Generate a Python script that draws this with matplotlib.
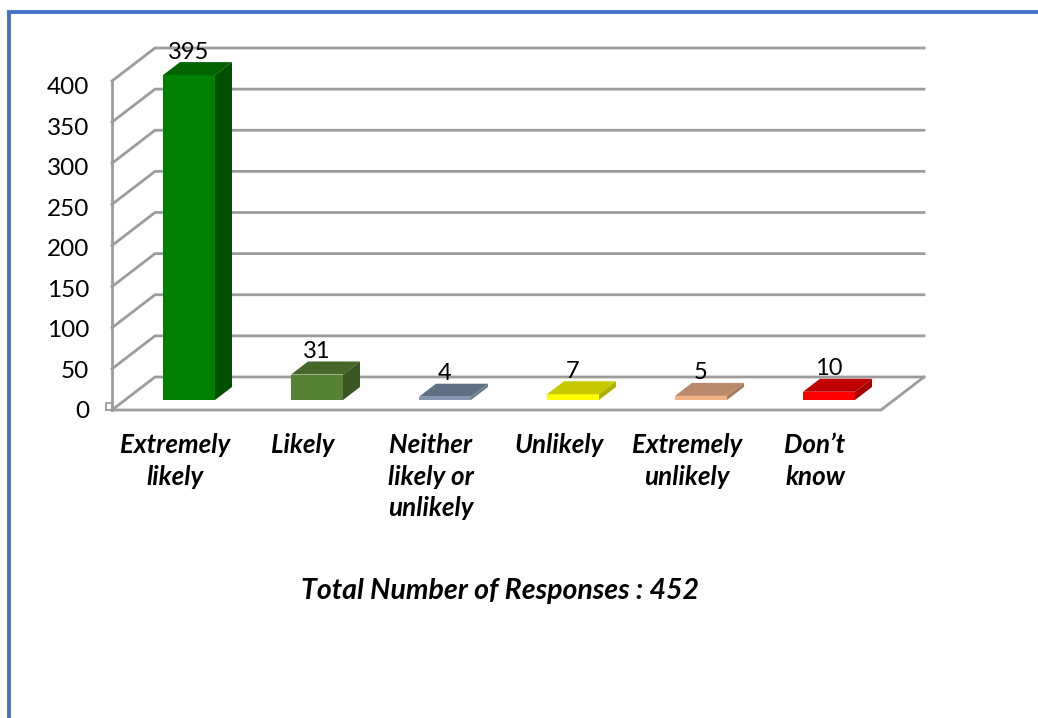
import matplotlib
matplotlib.use('Agg')
import matplotlib.pyplot as plt
from matplotlib.patches import Polygon

plt.rcParams['font.family'] = ['Lato', 'DejaVu Sans']

categories = ['Extremely\nlikely', 'Likely', 'Neither\nlikely or\nunlikely', 'Unlikely', 'Extremely\nunlikely', 'Don\u2019t\nknow']
values = [395, 31, 4, 7, 5, 10]
y_ticks = [0, 50, 100, 150, 200, 250, 300, 350, 400]
front_cols = ['#008000', '#558235', '#8497B0', '#FFFF00', '#F4B183', '#FF0000']
top_cols = ['#006400', '#436829', '#5F7085', '#C8C800', '#B8896A', '#C00000']
side_cols = ['#005000', '#385723', '#6A7A8D', '#AFAF00', '#A67C5C', '#A80000']
title = 'Total Number of Responses : 452'

W, H = 1038, 718
# pixel size of one data unit
px_x = 128.0
px_y = 0.8225
x0 = 189.0
y0 = 400.0

fig = plt.figure(figsize=(W / 100, H / 100), dpi=100)
ax = fig.add_axes([0, 0, 1, 1])
ax.set_xlim((0 - x0) / px_x, (W - x0) / px_x)
ax.set_ylim((y0 - H) / px_y, y0 / px_y)
ax.axis('off')

# 3d offsets in data units
bar_w = 52 / px_x
dx = 17 / px_x
dy = 13 / px_y
wall_dx = 43 / px_x
floor_front = -10 / px_y
floor_back = 23 / px_y
left = (112 - x0) / px_x
right = (881 - x0) / px_x
grey = '#9C9C9C'

# walls and gridlines
for v in y_ticks:
    yf = floor_front + v
    yb = floor_back + v
    ax.plot([left, left + wall_dx, right + wall_dx], [yf, yb, yb], color=grey, lw=2, zorder=1, solid_joinstyle='miter')
ax.plot([left, left], [floor_front, floor_front + y_ticks[-1]], color=grey, lw=2, zorder=1)
ax.plot([left, right, right + wall_dx], [floor_front, floor_front, floor_back], color=grey, lw=2, zorder=1)
# small tick at the origin
ax.plot([left - 6 / px_x, left, left, left - 6 / px_x, left - 6 / px_x],
        [floor_front, floor_front, floor_front + 7 / px_y, floor_front + 7 / px_y, floor_front],
        color=grey, lw=1.3, zorder=1)

for i, v in enumerate(values):
    l = i - bar_w / 2
    r = i + bar_w / 2
    ax.bar(i, v, width=bar_w, color=front_cols[i], zorder=3)
    ax.add_patch(Polygon([(l, v), (r, v), (r + dx, v + dy), (l + dx, v + dy)], color=top_cols[i], lw=0, zorder=3))
    ax.add_patch(Polygon([(r, 0), (r + dx, dy), (r + dx, v + dy), (r, v)], color=side_cols[i], lw=0, zorder=3))
    ax.annotate(str(v), (i, v + dy), xytext=(0, 10), textcoords='offset pixels', ha='center', va='center',
                fontsize=17, color='black', zorder=4)
    ax.text(i - 14 / px_x, -33 / px_y, categories[i], ha='center', va='top', fontsize=18.7,
            fontweight='bold', fontstyle='italic', linespacing=1.38, color='black')

# tick labels sit a little tighter than the gridlines
for v in y_ticks:
    ax.text(left - 23 / px_x, (y0 - 412) / px_y + v * 0.985, str(v), ha='right', va='center', fontsize=17.5, color='black')

ax.text((500 - x0) / px_x, (y0 - 591) / px_y, title, ha='center', va='center', fontsize=20.5,
        fontweight='bold', fontstyle='italic', color='black')

# outer blue frame
fig.add_artist(plt.Line2D([8.5 / W, 8.5 / W, 1], [0, 1 - 11.5 / H, 1 - 11.5 / H], color='#4472C4', lw=2.8,
                          solid_joinstyle='miter', transform=fig.transFigure))

fig.savefig('out.png', dpi=100)
